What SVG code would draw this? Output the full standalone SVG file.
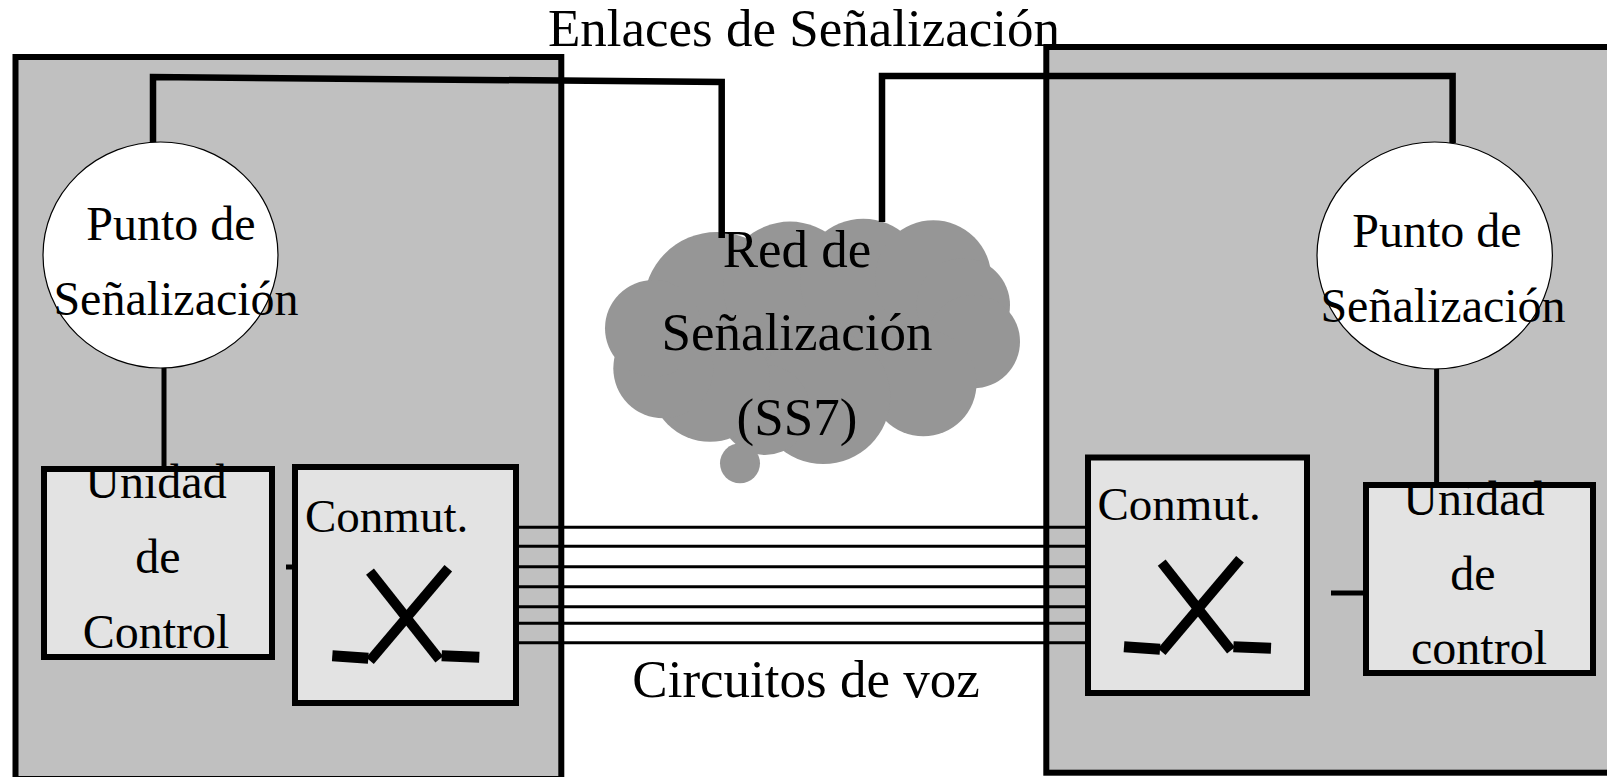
<svg xmlns="http://www.w3.org/2000/svg" xmlns:xlink="http://www.w3.org/1999/xlink" width="1607" height="777" viewBox="0 0 1607 777">
<style>
text{font-family:"Liberation Serif","Times New Roman",serif;fill:#000}
.big{font-size:53px}
.mid{font-size:48px}
.sm{font-size:47px}
.panel{fill:#c0c0c0;stroke:#000;stroke-width:6}
.box{fill:#e3e3e3;stroke:#000;stroke-width:6}
.sp{fill:#fff;stroke:#000;stroke-width:1.2}
.sig{fill:none;stroke:#000;stroke-width:6.5}
.wire{fill:none;stroke:#000;stroke-width:5}
.voice{stroke:#000;stroke-width:3}
.xs{fill:none;stroke:#000;stroke-width:10}
.xf{fill:none;stroke:#000;stroke-width:11}
</style>
<defs>
<g id="xsym">
<line class="xs" x1="370" y1="571.7" x2="439.3" y2="659.3"/>
<line class="xs" x1="448.3" y1="568.3" x2="370" y2="660.7"/>
<line class="xf" x1="332.3" y1="655.7" x2="368.3" y2="658.3"/>
<line class="xf" x1="441.7" y1="655.7" x2="479.3" y2="657.3"/>
</g>
</defs>
<rect width="1607" height="777" fill="#fff"/>
<g id="exchange-left">
<rect class="panel" x="15.5" y="57" width="545.8" height="722"/>
</g>
<g id="exchange-right">
<rect class="panel" x="1046.3" y="47" width="600" height="725.7"/>
</g>
<g id="cloud-ss7">
<g fill="#969696">
<ellipse cx="813" cy="335" rx="150" ry="83"/>
<circle cx="716.7" cy="305" r="73"/>
<circle cx="790" cy="288.3" r="66.7"/>
<circle cx="863.3" cy="281.7" r="63"/>
<circle cx="933.3" cy="278.3" r="58"/>
<circle cx="963.3" cy="305" r="46.7"/>
<circle cx="973.3" cy="341.7" r="46.7"/>
<circle cx="923.3" cy="383" r="53.3"/>
<circle cx="823.3" cy="397" r="67"/>
<circle cx="765" cy="410" r="45"/>
<circle cx="710" cy="381.7" r="60"/>
<circle cx="663.3" cy="368.3" r="50"/>
<circle cx="653.3" cy="328.3" r="48.3"/>
<circle cx="740" cy="463.3" r="20"/>
</g>
</g>
<g id="connectors">
<polyline class="sig" points="153,147 153,77 721.7,82 721.7,238"/>
<polyline class="sig" points="882,222 882,76 1452.6,76 1452.6,143"/>
<line class="wire" x1="164" y1="366" x2="164" y2="469"/>
<line class="wire" x1="1436.6" y1="367" x2="1436.6" y2="485"/>
<line class="wire" x1="286" y1="567" x2="295" y2="567"/>
<line class="wire" x1="1331" y1="593" x2="1366" y2="593"/>
<line class="voice" x1="516" y1="527.3" x2="1088" y2="527.3"/>
<line class="voice" x1="516" y1="546.3" x2="1088" y2="546.3"/>
<line class="voice" x1="516" y1="566.7" x2="1088" y2="566.7"/>
<line class="voice" x1="516" y1="586.7" x2="1088" y2="586.7"/>
<line class="voice" x1="516" y1="606.7" x2="1088" y2="606.7"/>
<line class="voice" x1="516" y1="623.3" x2="1088" y2="623.3" stroke-width="2.5"/>
<line class="voice" x1="516" y1="642.7" x2="1088" y2="642.7" stroke-width="2.5"/>
</g>
<g id="sp-left">
<ellipse class="sp" cx="160.5" cy="255" rx="117.5" ry="113"/>
<text class="mid" x="171" y="240" text-anchor="middle">Punto de</text>
<text class="mid" x="176" y="315" text-anchor="middle">Señalización</text>
</g>
<g id="sp-right">
<ellipse class="sp" cx="1434.7" cy="255.5" rx="117.7" ry="113.5"/>
<text class="mid" x="1437" y="247" text-anchor="middle">Punto de</text>
<text class="mid" x="1443" y="322" text-anchor="middle">Señalización</text>
</g>
<g id="cu-left">
<rect class="box" x="44" y="469" width="228" height="188"/>
<text class="mid" x="156" y="498" text-anchor="middle">Unidad</text>
<text class="mid" x="158" y="573" text-anchor="middle">de</text>
<text class="mid" x="156" y="648" text-anchor="middle">Control</text>
</g>
<g id="sw-left">
<rect class="box" x="295" y="467" width="221" height="236"/>
<text class="sm" x="305" y="532">Conmut.</text>
<use xlink:href="#xsym" href="#xsym"/>
</g>
<g id="sw-right">
<rect class="box" x="1088" y="457.5" width="219" height="235.5"/>
<text class="sm" x="1097.5" y="520">Conmut.</text>
<use xlink:href="#xsym" href="#xsym" transform="translate(791.7,-9)"/>
</g>
<g id="cu-right">
<rect class="box" x="1366" y="485" width="227" height="188"/>
<text class="mid" x="1474" y="515" text-anchor="middle">Unidad</text>
<text class="mid" x="1473" y="590" text-anchor="middle">de</text>
<text class="mid" x="1479" y="664" text-anchor="middle">control</text>
</g>
<g id="labels">
<text class="big" x="804" y="46" text-anchor="middle">Enlaces de Señalización</text>
<text class="big" x="797" y="267" text-anchor="middle">Red de</text>
<text class="big" x="797" y="350" text-anchor="middle">Señalización</text>
<text class="big" x="797" y="435" text-anchor="middle">(SS7)</text>
<text class="big" x="806" y="697" text-anchor="middle">Circuitos de voz</text>
</g>
</svg>
